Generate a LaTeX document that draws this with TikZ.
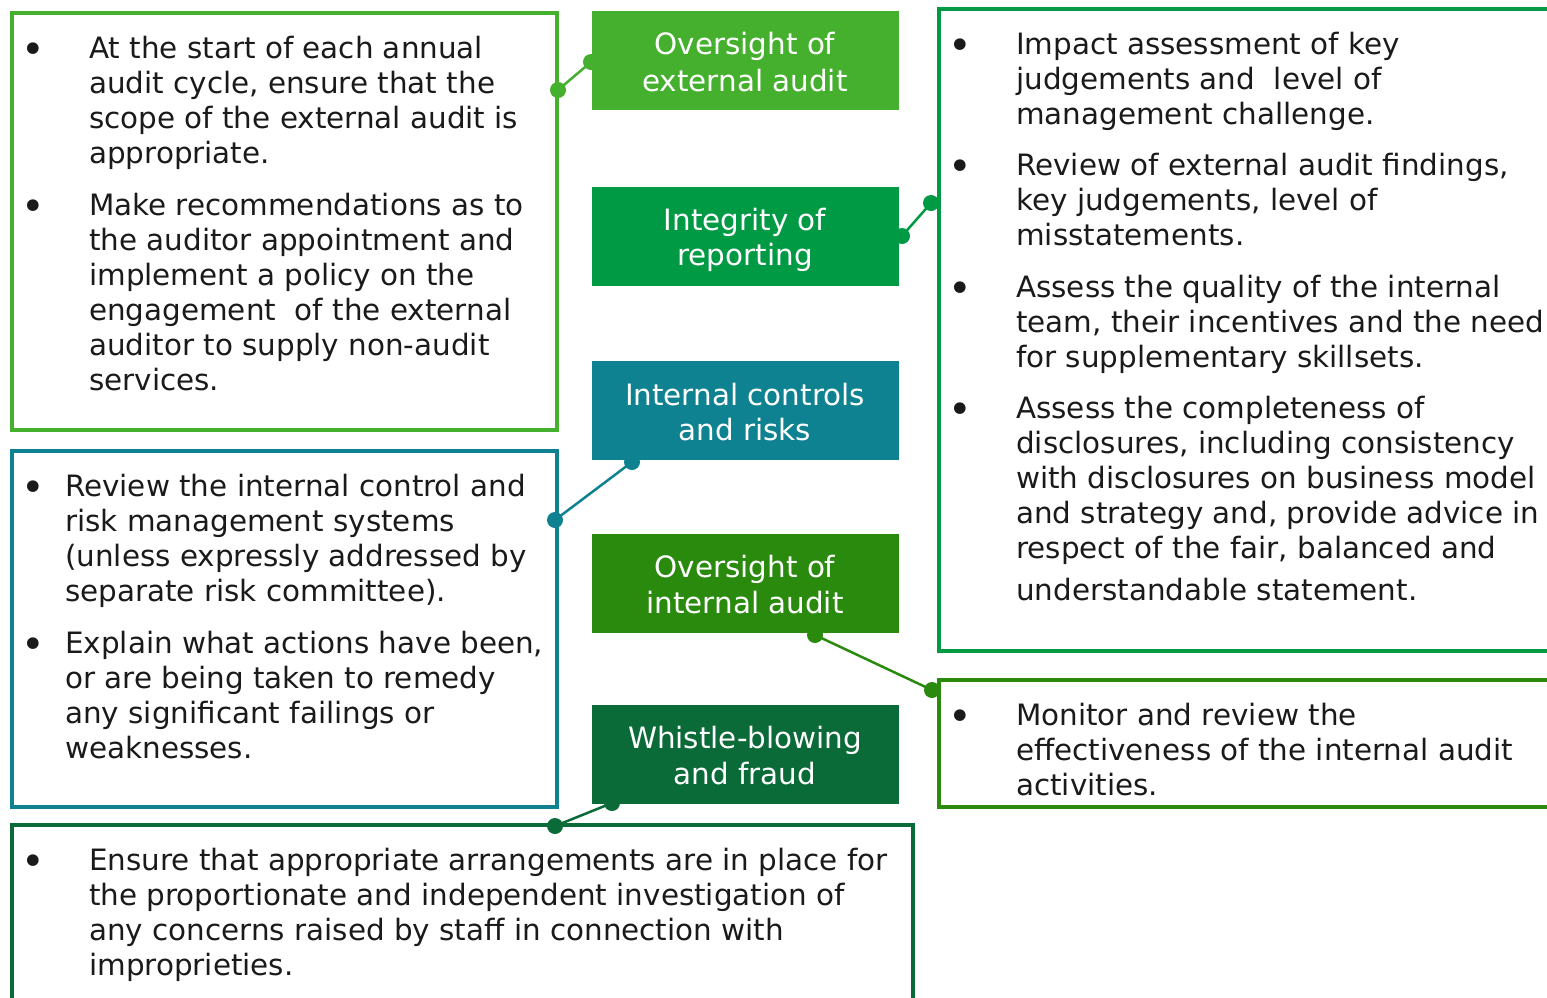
\documentclass[tikz,border=0pt]{standalone}
\usepackage{fontspec}
\setmainfont{DejaVu Sans}
\definecolor{cA}{RGB}{69,176,46}
\definecolor{cB}{RGB}{0,154,68}
\definecolor{cC}{RGB}{14,130,144}
\definecolor{cD}{RGB}{42,138,14}
\definecolor{cE}{RGB}{11,107,56}
\definecolor{ink}{RGB}{26,26,26}
\tikzset{
  txt/.style={inner sep=0pt, text=ink, font=\fontsize{29.4}{35}\selectfont},
  btxt/.style={inner sep=0pt, text=white, font=\fontsize{29.4}{35}\selectfont},
  frame/.style={line width=4.5pt},
  fillbox/.style={draw=none, inner sep=0pt, minimum width=307pt, minimum height=99pt},
  dot/.style={circle, inner sep=0pt, minimum size=16pt},
  link/.style={line width=2.5pt}
}
\newcommand\para[3]{%
  \foreach \t [count=\i from 0] in {#3} {\node[txt, anchor=base west] at (#1, {#2+35*\i}) {\t};}}
\newcommand\bul[2]{\node[txt, font=\fontsize{40}{40}\selectfont] at (#1,{#2+5}) {•};}
\begin{document}
\begin{tikzpicture}[x=1pt,y=-1pt]
\useasboundingbox (0,0) rectangle (1547,997);
\begin{scope}
\clip (0,0) rectangle (1547,997);
% frames
\draw[frame, cA] (12,13) rectangle (557,430);
\draw[frame, cC] (12,451) rectangle (557,807);
\draw[frame, cE] (12,825) rectangle (913,1010);
\draw[frame, cB] (939,9) rectangle (1570,651);
\draw[frame, cD] (939,680) rectangle (1570,807);
\end{scope}
% center boxes
\node[fillbox, fill=cA] (b1) at (745,60) {};
\node[btxt] at (745,46) {Oversight of};
\node[btxt] at (745,81) {external audit};
\node[fillbox, fill=cB] (b2) at (745,236) {};
\node[btxt] at (745,222) {Integrity of};
\node[btxt] at (745,257) {reporting};
\node[fillbox, fill=cC] (b3) at (745,410) {};
\node[btxt] at (745,395) {Internal controls};
\node[btxt] at (745,430) {and risks};
\node[fillbox, fill=cD] (b4) at (745,583) {};
\node[btxt] at (745,569) {Oversight of};
\node[btxt] at (745,603) {internal audit};
\node[fillbox, fill=cE] (b5) at (745,754) {};
\node[btxt] at (745,740) {Whistle-blowing};
\node[btxt] at (745,774) {and fraud};
% dots and links
\node[dot, fill=cA] (d1a) at (591,62) {};
\node[dot, fill=cA] (d1b) at (558,90) {};
\draw[link, cA] (d1a.center) -- (d1b.center);
\node[dot, fill=cB] (d2a) at (902,236) {};
\node[dot, fill=cB] (d2b) at (931,203) {};
\draw[link, cB] (d2a.center) -- (d2b.center);
\node[dot, fill=cC] (d3a) at (632,462) {};
\node[dot, fill=cC] (d3b) at (555,520) {};
\draw[link, cC] (d3a.center) -- (d3b.center);
\node[dot, fill=cD] (d4a) at (815,635) {};
\node[dot, fill=cD] (d4b) at (932,690) {};
\draw[link, cD] (d4a.center) -- (d4b.center);
\node[dot, fill=cE] (d5a) at (612,803) {};
\node[dot, fill=cE] (d5b) at (555,826) {};
\draw[link, cE] (d5a.center) -- (d5b.center);
% top-left text
\bul{33}{48}
\para{89}{58}{{At the start of each annual},{audit cycle, ensure that the},{scope of the external audit is},{appropriate.}}
\bul{33}{205}
\para{89}{215}{{Make recommendations as to},{the auditor appointment and},{implement a policy on the},{engagement\ \ of the external},{auditor to supply non-audit},{services.}}
% teal text
\bul{33}{486}
\para{65}{496}{{Review the internal control and},{risk management systems},{(unless expressly addressed by},{separate risk committee).}}
\bul{33}{643}
\para{65}{653}{{Explain what actions have been,},{or are being taken to remedy},{any significant failings or},{weaknesses.}}
% right text
\bul{960}{44}
\para{1016}{54}{{Impact assessment of key},{judgements and\ \ level of},{management challenge.}}
\bul{960}{165}
\para{1016}{175}{{Review of external audit findings,},{key judgements, level of},{misstatements.}}
\bul{960}{287}
\para{1016}{297}{{Assess the quality of the internal},{team, their incentives and the need},{for supplementary skillsets.}}
\bul{960}{408}
\para{1016}{418}{{Assess the completeness of},{disclosures, including consistency},{with disclosures on business model},{and strategy and, provide advice in},{respect of the fair, balanced and}}
\para{1016}{600}{{understandable statement.}}
\bul{960}{715}
\para{1016}{725}{{Monitor and review the},{effectiveness of the internal audit},{activities.}}
% bottom text
\bul{33}{860}
\para{89}{870}{{Ensure that appropriate arrangements are in place for},{the proportionate and independent investigation of},{any concerns raised by staff in connection with},{improprieties.}}
\end{tikzpicture}
\end{document}
